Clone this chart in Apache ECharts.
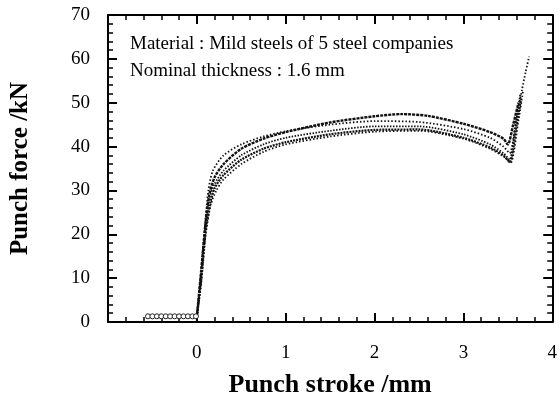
<!DOCTYPE html>
<html>
<head>
<meta charset="utf-8">
<script src="https://cdn.jsdelivr.net/npm/echarts@6/dist/echarts.min.js"></script>
<style>
  html, body { margin: 0; padding: 0; background: #fff; }
  #chart { width: 560px; height: 403px; }
</style>
</head>
<body>
<div id="chart"></div>
<script>
// punch stroke (mm) vs punch force (kN), five steel makers
const flatPart = [[-0.55, 1.3], [-0.5, 1.3], [-0.45, 1.3], [-0.4, 1.3], [-0.35, 1.3], [-0.3, 1.3],
  [-0.25, 1.3], [-0.2, 1.3], [-0.15, 1.3], [-0.1, 1.3], [-0.05, 1.3], [-0.01, 1.3]];

const steelA = [[0, 1.2], [0.05, 12], [0.1, 24], [0.13, 30], [0.18, 34.5], [0.3, 38], [0.5, 40.5],
  [0.75, 42.3], [1, 43.5], [1.5, 45], [2, 45.8], [2.5, 45.6], [3, 44], [3.3, 42], [3.45, 40],
  [3.52, 38.5], [3.6, 47], [3.66, 53], [3.7, 57], [3.74, 60.5]];
const steelB = [[0, 1.2], [0.05, 12], [0.1, 23], [0.14, 29], [0.2, 33], [0.3, 36], [0.5, 39.5],
  [0.75, 41.8], [1, 43.3], [1.5, 45.5], [2, 46.9], [2.3, 47.4], [2.6, 47], [3, 45.2], [3.3, 43.3],
  [3.45, 41.8], [3.5, 40.5], [3.56, 45], [3.62, 50]];
const steelC = [[0, 1.2], [0.05, 11], [0.1, 22], [0.14, 28], [0.2, 31.5], [0.3, 34.5], [0.5, 38],
  [0.75, 40.5], [1, 42], [1.5, 43.6], [2, 44.6], [2.5, 44.6], [3, 42.8], [3.3, 40.5], [3.45, 38.5],
  [3.52, 37], [3.58, 44], [3.64, 52]];
const steelD = [[0, 1.2], [0.05, 10], [0.1, 21], [0.15, 27], [0.2, 30.5], [0.3, 33.5], [0.5, 37],
  [0.75, 39.5], [1, 41], [1.5, 42.8], [2, 43.8], [2.5, 43.9], [3, 42], [3.3, 39.8], [3.45, 38],
  [3.52, 36.5], [3.6, 45], [3.65, 51]];
const steelE = [[0, 1.2], [0.05, 9], [0.1, 20], [0.16, 27], [0.22, 30], [0.3, 32.5], [0.5, 36],
  [0.75, 38.8], [1, 40.5], [1.5, 42.3], [2, 43.4], [2.5, 43.6], [3, 41.8], [3.3, 39.5], [3.47, 37.5],
  [3.53, 36.2], [3.62, 46], [3.67, 52.5]];

const xTickLabels = ['0', '1', '2', '3', '4'];
const noteLines = ['Material : Mild steels of 5 steel companies', 'Nominal thickness : 1.6 mm'];

const serif = '"Liberation Serif", "DejaVu Serif", serif';
const chart = echarts.init(document.getElementById('chart'));

function curve(data, width, dash) {
  return {
    type: 'line',
    data: data,
    showSymbol: false,
    smooth: 0.25,
    lineStyle: { color: '#111', width: width, type: dash },
    z: 3
  };
}

const axisBase = {
  type: 'value',
  axisLine: { show: true, onZero: false, lineStyle: { color: '#000', width: 2 } },
  axisTick: { show: true, inside: true, length: 9, lineStyle: { color: '#000', width: 2 } },
  minorTick: { show: true, splitNumber: 5, length: 5, lineStyle: { color: '#000', width: 1.5 } },
  splitLine: { show: false }
};

chart.setOption({
  animation: false,
  grid: { left: 106, right: 6, top: 15, bottom: 81 },
  xAxis: [
    Object.assign({}, axisBase, {
      min: -1, max: 4, interval: 1,
      name: 'Punch stroke /mm',
      nameLocation: 'middle',
      nameGap: 50,
      nameTextStyle: { fontFamily: serif, fontWeight: 'bold', fontSize: 26, color: '#000' },
      axisLabel: {
        margin: 22, fontFamily: serif, fontSize: 19, color: '#000',
        formatter: v => (v >= 0 ? xTickLabels[v] : '')
      }
    }),
    Object.assign({}, axisBase, {
      position: 'top', min: -1, max: 4, interval: 1,
      axisLabel: { show: false }
    })
  ],
  yAxis: [
    Object.assign({}, axisBase, {
      min: 0, max: 70, interval: 10,
      name: 'Punch force /kN',
      nameLocation: 'middle',
      nameGap: 75,
      nameTextStyle: { fontFamily: serif, fontWeight: 'bold', fontSize: 25, color: '#000' },
      axisLabel: { margin: 18, fontFamily: serif, fontSize: 19, color: '#000' }
    }),
    Object.assign({}, axisBase, {
      position: 'right', min: 0, max: 70, interval: 10,
      axisLabel: { show: false }
    })
  ],
  graphic: noteLines.map((t, i) => ({
    type: 'text',
    left: 130,
    top: 35 + i * 27,
    style: { text: t, font: '19px ' + serif, fill: '#000' }
  })),
  series: [
    {
      type: 'line',
      data: flatPart,
      symbol: 'circle',
      symbolSize: 5,
      itemStyle: { color: '#fff', borderColor: '#222', borderWidth: 1 },
      lineStyle: { color: '#222', width: 1 },
      z: 4
    },
    curve(steelA, 1.8, [1.5, 2]),
    curve(steelB, 2.4, [3, 1]),
    curve(steelC, 1.8, [1.5, 1.5]),
    curve(steelD, 2.2, [2, 1]),
    curve(steelE, 1.8, [1.5, 2])
  ]
});
</script>
</body>
</html>
